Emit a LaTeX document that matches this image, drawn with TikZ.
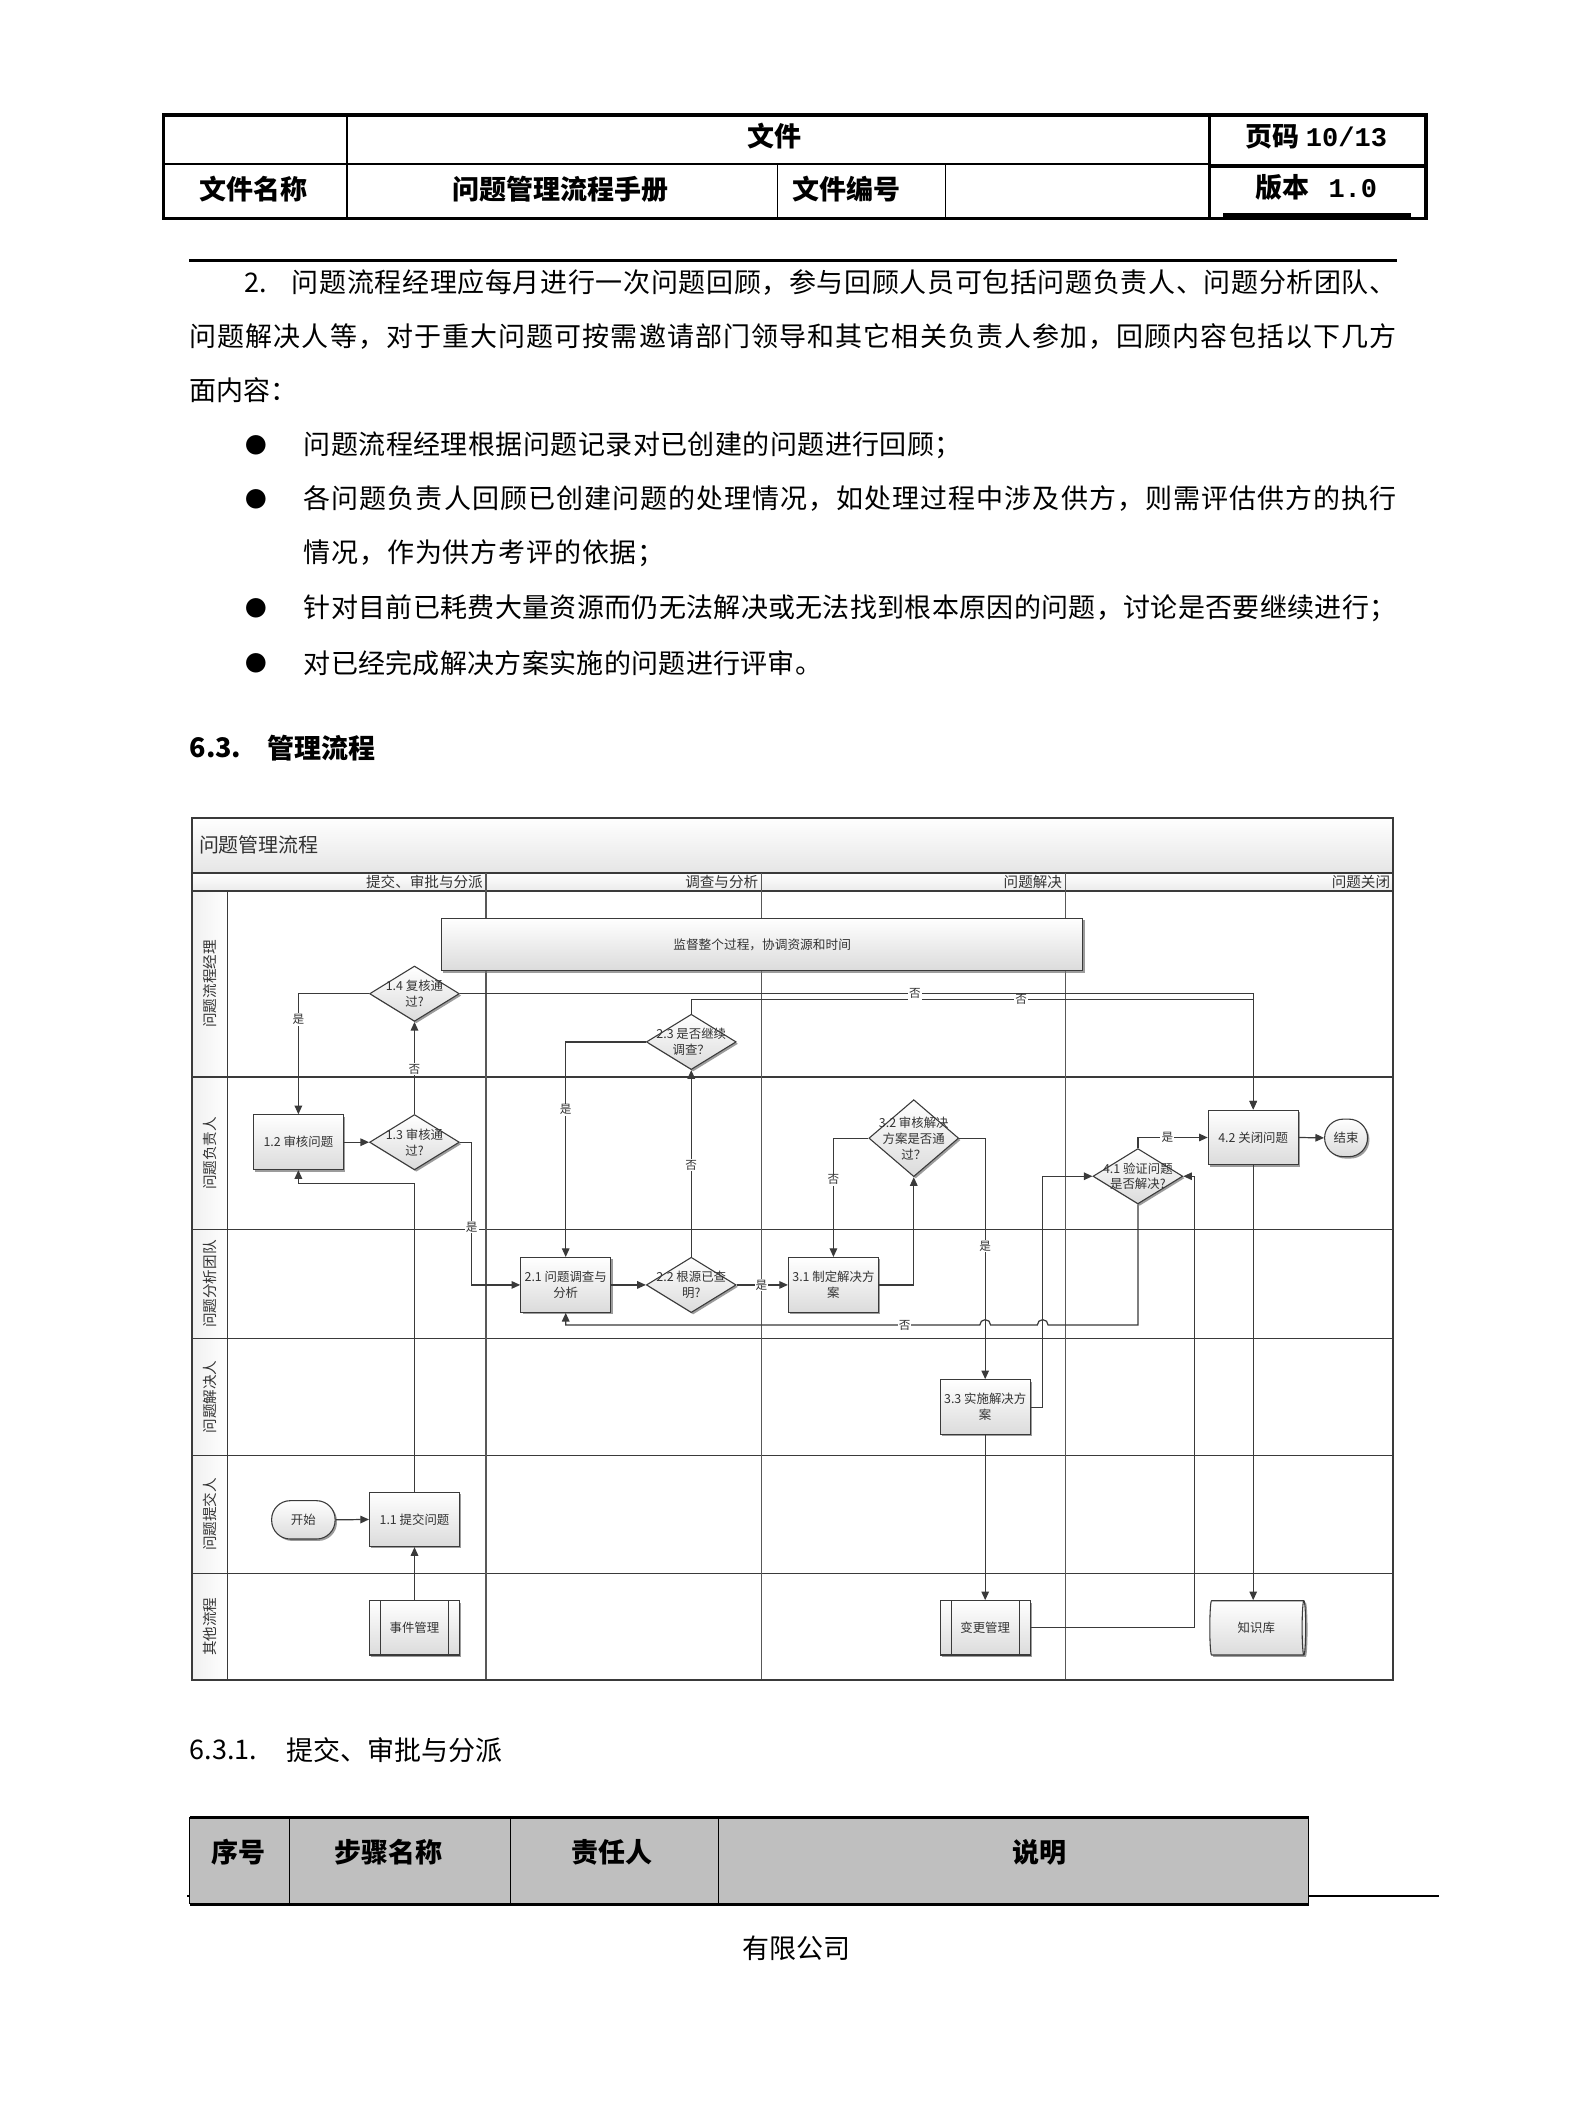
\documentclass[tikz,border=0pt]{standalone}
\usepackage{fontspec}
\setmainfont{Noto Sans CJK SC}
\newfontfamily\monof{Liberation Mono}
\usetikzlibrary{shapes.geometric,shapes.misc,shadows,arrows.meta,calc}
% own inter-character class for CJK text, used to spread justified lines
\count255="3000
\loop \XeTeXcharclass\count255=250 \ifnum\count255<"9FFF \advance\count255 by 1 \repeat
\count255="FF00
\loop \XeTeXcharclass\count255=250 \ifnum\count255<"FF5E \advance\count255 by 1 \repeat
\XeTeXinterchartoks 250 250 = {\hskip 0pt plus 3pt\relax}
\newcommand\jline[2]{\makebox[#1][s]{\XeTeXinterchartokenstate=1 #2}}
\definecolor{ln}{HTML}{3A3A3A}
\definecolor{tx}{HTML}{333333}
\tikzset{
  bodyline/.style={font=\fontsize{10}{12}\selectfont, anchor=west, inner sep=0pt},
  hdr/.style={font=\fontsize{10}{12}\selectfont\bfseries, inner sep=0pt},
  bul/.style={font=\fontsize{8}{8}\selectfont, inner sep=0pt},
  gridline/.style={draw=ln, line width=0.5pt},
  phasetx/.style={font=\fontsize{5.4}{6}\selectfont, text=tx, anchor=east, inner sep=0pt},
  lanetx/.style={font=\fontsize{5.4}{6}\selectfont, text=tx, rotate=90, inner sep=0pt},
  box/.style={draw=ln, line width=0.4pt, top color=white, bottom color=black!14,
    minimum width=33.3pt, minimum height=20.3pt, inner sep=0.5pt, align=center,
    font=\fontsize{4.6}{5.9}\selectfont, text=tx,
    drop shadow={shadow xshift=0.7pt, shadow yshift=-0.7pt, fill=black!55, opacity=0.7}},
  dia/.style={box, diamond, minimum width=33.25pt, minimum height=20.5pt, inner sep=0pt},
  dtx/.style={align=center, font=\fontsize{4.6}{5.9}\selectfont, text=tx, inner sep=0pt},
  term/.style={box, rounded corners=6.9pt},
  subproc/.style={box, minimum width=33.3pt, minimum height=20.1pt,
    path picture={\draw[ln, line width=0.4pt]
      ([xshift=4pt]path picture bounding box.north west) -- ([xshift=4pt]path picture bounding box.south west)
      ([xshift=-4pt]path picture bounding box.north east) -- ([xshift=-4pt]path picture bounding box.south east);}},
  cyl/.style={box, cylinder, shape border rotate=0, aspect=0.25, minimum width=20.1pt, minimum height=35.5pt},
  arr/.style={draw=ln, line width=0.45pt, -{Triangle[length=3.2pt,width=2.8pt]}},
  lbl/.style={fill=white, inner sep=0.4pt, font=\fontsize{4.3}{5}\selectfont, text=tx},
}
\begin{document}
\begin{tikzpicture}[x=0.5pt,y=-0.5pt]
\useasboundingbox (0,0) rectangle (1175,1568);
\fill[white] (0,0) rectangle (1175,1568);

% ---------------- header table ----------------
\draw[line width=0.5pt] (257,85) -- (257,162);
\draw[line width=0.5pt] (121,121.5) -- (897,121.5);
\draw[line width=0.5pt] (576,121.5) -- (576,162) (700.5,121.5) -- (700.5,162);
\draw[line width=1.3pt] (897,123) -- (1056,123);
\draw[line width=1.3pt] (896,85) -- (896,162);
\draw[line width=1.3pt] (121,85) rectangle (1056,162);
\draw[line width=1.6pt] (906,159.5) -- (1045,159.5);
\node[hdr] (h1) at (574,101) {文件};
\node[hdr] (h2) at (975,101) {页码 {\monof\bfseries 10/13}};
\node[hdr] (h3) at (188,140) {文件名称};
\node[hdr] (h4) at (415,140) {问题管理流程手册};
\node[hdr] (h5) at (627,140) {文件编号};
\node[hdr] (h6) at (975,138.5) {版本\hspace{7pt}{\monof\bfseries 1.0}};

% ---------------- text ----------------
\draw[line width=0.8pt] (140,193) -- (1035,193);
\node[bodyline] (t0) at (181,209.5) {2.};
\node[bodyline] (t1) at (215.8,209.5) {\jline{409.1pt}{问题流程经理应每月进行一次问题回顾，参与回顾人员可包括问题负责人、问题分析团队、}};
\node[bodyline] (t2) at (140,249.5) {\jline{447pt}{问题解决人等，对于重大问题可按需邀请部门领导和其它相关负责人参加，回顾内容包括以下几方}};
\node[bodyline] (t3) at (140,289) {\jline{36.5pt}{面内容：}};
\node[bul] (u1) at (190,329.5) {●};
\node[bodyline] (b1t) at (224.6,329.5) {\jline{243.7pt}{问题流程经理根据问题记录对已创建的问题进行回顾；}};
\node[bul] (u2) at (190,369.5) {●};
\node[bodyline] (b2t) at (224.6,369.5) {\jline{404.7pt}{各问题负责人回顾已创建问题的处理情况，如处理过程中涉及供方，则需评估供方的执行}};
\node[bodyline] (b2u) at (224.6,410) {\jline{133.7pt}{情况，作为供方考评的依据；}};
\node[bul] (u3) at (190,450.5) {●};
\node[bodyline] (b3t) at (224.6,450.5) {\jline{404.7pt}{针对目前已耗费大量资源而仍无法解决或无法找到根本原因的问题，讨论是否要继续进行；}};
\node[bul] (u4) at (190,491) {●};
\node[bodyline] (b4t) at (224.6,491) {\jline{192pt}{对已经完成解决方案实施的问题进行评审。}};
\node[bodyline, font=\fontsize{10}{12}\selectfont\bfseries] (s63) at (140,554) {6.3.};
\node[bodyline, font=\fontsize{10}{12}\selectfont\bfseries] (s63t) at (198,554) {管理流程};

% ---------------- flowchart frame ----------------
\shade[top color=white, bottom color=black!10] (142,605.6) rectangle (1032,646.5);
\shade[top color=white, bottom color=black!8] (142,646.5) rectangle (1032,659.9);
\shade[left color=black!6, right color=white] (142,659.9) rectangle (168.6,1244);
\draw[gridline] (142,646.5) -- (1032,646.5);
\draw[gridline] (142,659.9) -- (1032,659.9);
\foreach \yy in {797.7,910.7,991.5,1077.9,1165.5} \draw[gridline] (142,\yy) -- (1032,\yy);
\draw[gridline] (168.6,659.9) -- (168.6,1244);
\foreach \xx in {360,564,789} \draw[gridline, draw=ln!85] (\xx,646.5) -- (\xx,1244);
\draw[draw=ln, line width=0.7pt] (142,605.6) rectangle (1032,1244);
\node[anchor=west, inner sep=0pt, font=\fontsize{7.4}{8}\selectfont, text=tx] (ttl) at (147,626) {问题管理流程};
\node[phasetx] (p1) at (358,653.2) {提交、审批与分派};
\node[phasetx] (p2) at (562,653.2) {调查与分析};
\node[phasetx] (p3) at (787,653.2) {问题解决};
\node[phasetx] (p4) at (1030,653.2) {问题关闭};
\node[lanetx] (ln1) at (155.4,728.8) {问题流程经理};
\node[lanetx] (ln2) at (155.4,854.2) {问题负责人};
\node[lanetx] (ln3) at (155.4,951.1) {问题分析团队};
\node[lanetx] (ln4) at (155.4,1034.7) {问题解决人};
\node[lanetx] (ln5) at (155.4,1121.7) {问题提交人};
\node[lanetx] (ln6) at (155.4,1204.8) {其他流程};

% ---------------- nodes ----------------
\node[box, minimum width=237.5pt, minimum height=19.5pt, font=\fontsize{4.7}{6}\selectfont] (sup) at (564.5,699.5) {监督整个过程，协调资源和时间};
\node[box] (b12) at (221,846) {1.2 审核问题};
\node[dia, label={[dtx]center:1.3 审核通\\过?}] (d13) at (307,846) {};
\node[dia, label={[dtx]center:1.4 复核通\\过?}] (d14) at (307,736) {};
\node[dia, label={[dtx]center:2.3 是否继续\\调查？}] (d23) at (512,771.7) {};
\node[box] (b21) at (419,951.7) {2.1 问题调查与\\分析};
\node[dia, label={[dtx]center:2.2 根源已查\\明?}] (d22) at (512,951.7) {};
\node[box] (b31) at (617.3,951.7) {3.1 制定解决方\\案};
\node[dia, minimum height=28.5pt, label={[dtx]center:3.2 审核解决\\方案是否通\\过？}] (d32) at (676.8,843) {};
\node[box] (b33) at (729.7,1042.2) {3.3 实施解决方\\案};
\node[dia, label={[dtx]center:4.1 验证问题\\是否解决?}] (d41) at (842.8,871.2) {};
\node[box] (b42) at (928.2,842.5) {4.2 关闭问题};
\node[term, minimum width=15.9pt, minimum height=13.9pt] (en) at (997,842.8) {结束};
\node[term, minimum width=23.5pt, minimum height=14.2pt] (st) at (224.7,1125.7) {开始};
\node[box, minimum height=20.1pt] (b11) at (307,1125.4) {1.1 提交问题};
\node[subproc] (sj) at (307,1205.7) {事件管理};
\node[subproc] (sb) at (729.7,1205.7) {变更管理};
\node[cyl] (kb) at (930.5,1205.7) {知识库};

% ---------------- connectors ----------------
\draw[arr] (st.east) -- (b11.west);
\draw[arr] (sj.north) -- (b11.south);
\draw[arr] (b11.north) -- (307,876.4) -- (221,876.4) -- (b12.south);
\draw[arr] (b12.east) -- (d13.west);
\draw[arr] (d13.north) -- (d14.south);
\draw[arr] (d14.west) -- (221,736) -- (b12.north);
\draw[arr] (d13.east) -- (349.4,846) -- (349.4,951.7) -- (b21.west);
\draw[arr] (d14.east) -- (928.2,736) -- (b42.north);
\draw[arr] (d23.north) -- (512,740.5) -- (928.2,740.5) -- (b42.north);
\draw[arr] (d23.west) -- (419,771.7) -- (b21.north);
\draw[arr] (b21.east) -- (d22.west);
\draw[arr] (d22.north) -- (d23.south);
\draw[arr] (d22.east) -- (b31.west);
\draw[arr] (b31.east) -- (676.8,951.7) -- (d32.south);
\draw[arr] (d32.west) -- (617.3,843) -- (b31.north);
\draw[arr] (d32.east) -- (729.7,843) -- (b33.north);
\draw[arr] (b33.east) -- (772.3,1042.2) -- (772.3,871.2) -- (d41.west);
\draw[arr] (b33.south) -- (sb.north);
\draw[arr] (sb.east) -- (885,1205.7) -- (885,871.2) -- (d41.east);
\draw[arr] (d41.north) -- (842.8,842.5) -- (b42.west);
\draw[arr] (d41.south) -- (842.8,981.4) -- (776.3,981.4)
  arc[start angle=0, end angle=180, radius=2pt] -- (733.7,981.4)
  arc[start angle=0, end angle=180, radius=2pt] -- (419,981.4) -- (b21.south);
\draw[arr] (b42.east) -- (en.west);
\draw[arr] (b42.south) -- (b42.south |- kb.north);

% ---------------- connector labels ----------------
\node[lbl] (y1) at (221,755) {是};
\node[lbl] (n1) at (307,792) {否};
\node[lbl] (y2) at (349.4,909) {是};
\node[lbl] (n2) at (677.7,736) {否};
\node[lbl] (n3) at (756.4,740.5) {否};
\node[lbl] (y3) at (419,822) {是};
\node[lbl] (n4) at (512,863) {否};
\node[lbl] (y4) at (564,951.7) {是};
\node[lbl] (n5) at (617.3,873.7) {否};
\node[lbl] (y5) at (729.7,923) {是};
\node[lbl] (y6) at (864.6,842.5) {是};
\node[lbl] (n6) at (670,981.4) {否};

% ---------------- bottom ----------------
\node[bodyline] (s631) at (140,1296) {6.3.1.};
\node[bodyline] (s631t) at (212,1296) {提交、审批与分派};
\draw[line width=0.6pt] (138.8,1404.4) -- (1066,1404.4);
\fill[black!25] (140.6,1346) rectangle (969.3,1410.5);
\draw[line width=0.4pt] (140.6,1346) -- (140.6,1410.5) (214.3,1346) -- (214.3,1410.5)
  (378.4,1346) -- (378.4,1410.5) (532,1346) -- (532,1410.5) (969.3,1346) -- (969.3,1410.5);
\draw[line width=0.9pt] (140.6,1346) -- (969.3,1346) (140.6,1410.5) -- (969.3,1410.5);
\node[hdr] (c1) at (176.8,1372) {序号};
\node[hdr] (c2) at (287.5,1372) {步骤名称};
\node[hdr] (c3) at (453.3,1372) {责任人};
\node[hdr] (c4) at (769.7,1372) {说明};
\node[font=\fontsize{10}{12}\selectfont, inner sep=0pt] (ft) at (590,1443) {有限公司};
\end{tikzpicture}
\end{document}
